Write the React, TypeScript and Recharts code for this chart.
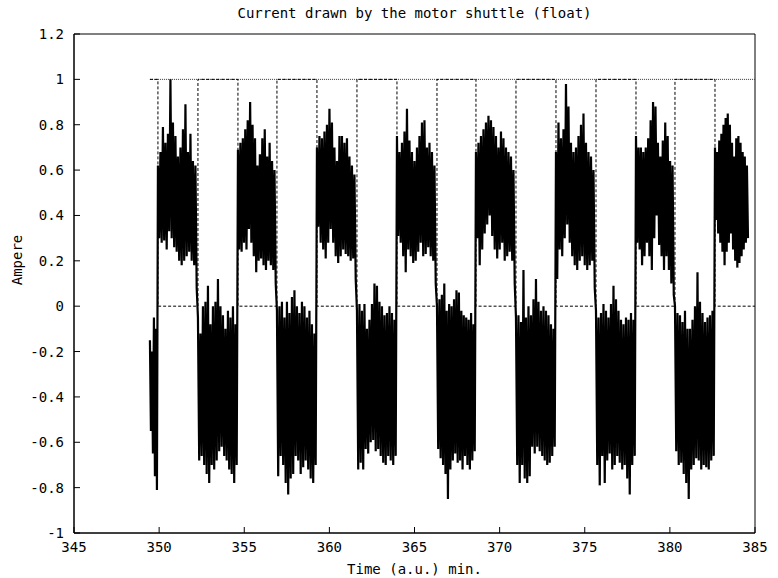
import { LineChart, Line, XAxis, YAxis, ReferenceArea } from 'recharts';

// segment boundaries (min) - every segment is one direction of the shuttle
const segEdges = [349.46, 349.93, 352.28, 354.63, 356.92, 359.27, 361.62, 363.97, 366.32, 368.61, 370.96, 373.31, 375.66, 378.01, 380.3, 382.65, 384.65];

const segHigh = [
  [-0.15, -0.2, -0.05, -0.1],
  [0.62, 0.68, 0.79, 0.72, 0.76, 1.0, 0.81, 0.75, 0.66, 0.7, 0.78, 0.89, 0.68, 0.76, 0.64, 0.62],
  [-0.05, -0.12, 0.0, 0.02, 0.09, -0.08, 0.0, 0.02, 0.12, 0.0, -0.04, -0.1, -0.02, -0.05, 0.0, -0.08],
  [0.69, 0.72, 0.74, 0.78, 0.82, 0.9, 0.8, 0.74, 0.62, 0.67, 0.74, 0.78, 0.66, 0.72, 0.64, 0.6],
  [-0.02, 0.0, 0.02, -0.05, 0.02, -0.03, 0.04, 0.07, 0.0, -0.03, 0.02, 0.0, -0.05, -0.02, -0.08, -0.12],
  [0.7, 0.75, 0.74, 0.77, 0.8, 0.87, 0.81, 0.7, 0.64, 0.75, 0.75, 0.72, 0.74, 0.66, 0.62, 0.58],
  [-0.02, 0.01, -0.02, 0.01, -0.1, -0.06, 0.01, 0.1, 0.09, 0.02, 0.0, -0.04, -0.03, 0.0, -0.03, -0.06],
  [0.75, 0.68, 0.72, 0.77, 0.87, 0.73, 0.68, 0.64, 0.7, 0.75, 0.81, 0.82, 0.7, 0.72, 0.68, 0.62],
  [0.0, 0.03, 0.05, 0.1, -0.02, 0.01, 0.0, 0.03, 0.07, 0.06, -0.02, -0.04, -0.05, -0.06, -0.03, -0.08],
  [0.68, 0.72, 0.75, 0.78, 0.81, 0.84, 0.82, 0.79, 0.75, 0.7, 0.77, 0.74, 0.7, 0.68, 0.66, 0.6],
  [-0.05, -0.04, -0.07, 0.16, -0.05, 0.0, -0.04, 0.03, 0.12, 0.02, -0.02, 0.0, -0.02, -0.04, -0.08, -0.1],
  [0.68, 0.81, 0.74, 0.78, 0.98, 0.88, 0.72, 0.68, 0.7, 0.75, 0.8, 0.85, 0.72, 0.68, 0.66, 0.6],
  [-0.02, -0.05, -0.03, 0.01, -0.02, -0.05, 0.01, 0.09, 0.03, -0.02, -0.06, -0.08, -0.05, -0.06, -0.03, -0.06],
  [0.75, 0.7, 0.7, 0.68, 0.7, 0.74, 0.82, 0.9, 0.88, 0.72, 0.66, 0.73, 0.81, 0.75, 0.64, 0.62],
  [0.0, -0.03, -0.04, -0.07, -0.02, -0.1, -0.1, -0.06, 0.0, 0.15, 0.02, -0.03, -0.07, -0.05, -0.04, -0.02],
  [0.7, 0.68, 0.73, 0.76, 0.8, 0.83, 0.85, 0.8, 0.72, 0.66, 0.74, 0.75, 0.72, 0.68, 0.66, 0.62],
];

const segLow = [
  [-0.55, -0.65, -0.75, -0.81],
  [0.3, 0.28, 0.29, 0.25, 0.33, 0.3, 0.26, 0.24, 0.2, 0.18, 0.2, 0.22, 0.24, 0.2, 0.18, 0.08],
  [-0.68, -0.66, -0.7, -0.74, -0.78, -0.7, -0.72, -0.68, -0.64, -0.62, -0.66, -0.68, -0.72, -0.74, -0.78, -0.7],
  [0.25, 0.24, 0.28, 0.25, 0.34, 0.28, 0.22, 0.15, 0.2, 0.21, 0.18, 0.16, 0.2, 0.18, 0.16, 0.1],
  [-0.75, -0.66, -0.7, -0.78, -0.83, -0.76, -0.74, -0.66, -0.68, -0.74, -0.71, -0.68, -0.72, -0.76, -0.78, -0.7],
  [0.35, 0.28, 0.25, 0.21, 0.28, 0.34, 0.28, 0.22, 0.19, 0.22, 0.25, 0.23, 0.22, 0.2, 0.21, 0.12],
  [-0.72, -0.69, -0.72, -0.63, -0.65, -0.6, -0.59, -0.64, -0.63, -0.66, -0.69, -0.7, -0.66, -0.68, -0.7, -0.66],
  [0.31, 0.28, 0.22, 0.15, 0.25, 0.22, 0.19, 0.2, 0.24, 0.28, 0.22, 0.23, 0.26, 0.22, 0.2, 0.1],
  [-0.63, -0.67, -0.7, -0.74, -0.85, -0.72, -0.68, -0.65, -0.69, -0.68, -0.72, -0.66, -0.7, -0.72, -0.68, -0.64],
  [0.3, 0.18, 0.25, 0.32, 0.36, 0.4, 0.31, 0.25, 0.21, 0.25, 0.28, 0.2, 0.22, 0.24, 0.2, 0.1],
  [-0.7, -0.78, -0.7, -0.76, -0.78, -0.75, -0.62, -0.65, -0.62, -0.64, -0.66, -0.68, -0.7, -0.69, -0.66, -0.62],
  [0.12, 0.25, 0.22, 0.3, 0.36, 0.28, 0.22, 0.18, 0.16, 0.2, 0.22, 0.18, 0.16, 0.18, 0.2, 0.08],
  [-0.7, -0.79, -0.66, -0.78, -0.68, -0.65, -0.72, -0.7, -0.66, -0.69, -0.72, -0.7, -0.76, -0.83, -0.7, -0.66],
  [0.28, 0.25, 0.18, 0.22, 0.28, 0.22, 0.16, 0.3, 0.4, 0.27, 0.22, 0.16, 0.22, 0.16, 0.1, 0.05],
  [-0.64, -0.7, -0.69, -0.74, -0.78, -0.85, -0.72, -0.7, -0.67, -0.68, -0.72, -0.7, -0.71, -0.72, -0.68, -0.66],
  [0.38, 0.32, 0.28, 0.24, 0.18, 0.24, 0.28, 0.32, 0.25, 0.2, 0.17, 0.19, 0.22, 0.25, 0.28, 0.3],
];

// direction signal (square wave) and the upper limit line
const stepTimes = [349.46, 349.93, 352.28, 354.63, 356.92, 359.27, 361.62, 363.97, 366.32, 368.61, 370.96, 373.31, 375.66, 378.01, 380.3, 382.65, 385];
const stepLevels = [1, 0, 1, 0, 1, 0, 1, 0, 1, 0, 1, 0, 1, 0, 1, 0, 0];
const limitTimes = [349.46, 385];
const limitLevels = [1, 1];

const xTicks = [345, 350, 355, 360, 365, 370, 375, 380, 385];
const yTicks = [-1, -0.8, -0.6, -0.4, -0.2, 0, 0.2, 0.4, 0.6, 0.8, 1, 1.2];

const FONT = '"DejaVu Sans Mono", monospace';

// zigzag between upper and lower envelope -> dense black band
const currentData: { t: number; a: number }[] = [];
segHigh.forEach((hi, k) => {
  const start = segEdges[k];
  const dt = (segEdges[k + 1] - start) / hi.length;
  hi.forEach((h, i) => {
    currentData.push({ t: start + i * dt, a: h });
    currentData.push({ t: start + (i + 0.5) * dt, a: segLow[k][i] });
  });
});

const stepData = stepTimes.map((t, i) => ({ t, s: stepLevels[i] }));
const limitData = limitTimes.map((t, i) => ({ t, l: limitLevels[i] }));

const tickStyle = { fill: '#000', fontSize: 14, fontFamily: FONT };

export default function App() {
  return (
    <div style={{ position: 'absolute', left: 0, top: 0, width: 778, height: 578, background: '#fff' }}>
      <div
        style={{
          position: 'absolute', left: 74, top: 5, width: 681, textAlign: 'center',
          fontFamily: FONT, fontSize: 14, color: '#000',
        }}
      >
        Current drawn by the motor shuttle (float)
      </div>
      <div
        style={{
          position: 'absolute', left: 17, top: 260, transform: 'translate(-50%, -50%) rotate(-90deg)',
          fontFamily: FONT, fontSize: 14, color: '#000', whiteSpace: 'nowrap',
        }}
      >
        Ampere
      </div>
      <LineChart width={778} height={578} data={currentData} margin={{ top: 34, right: 23, bottom: 0, left: 0 }}>
        <ReferenceArea x1={345} x2={385} y1={-1} y2={1.2} fill="none" stroke="#000" strokeWidth={1} ifOverflow="visible" />
        <XAxis
          dataKey="t"
          type="number"
          domain={[345, 385]}
          ticks={xTicks}
          allowDataOverflow
          height={45}
          tickSize={-6}
          tickMargin={15}
          stroke="#000"
          tick={tickStyle}
          label={{ value: 'Time (a.u.) min.', position: 'insideBottom', offset: 4, fill: '#000', fontSize: 14, fontFamily: FONT }}
        />
        <XAxis xAxisId="top" orientation="top" type="number" domain={[345, 385]} ticks={xTicks} height={0} tickSize={-6} tick={false} stroke="#000" />
        <YAxis
          type="number"
          domain={[-1, 1.2]}
          ticks={yTicks}
          allowDataOverflow
          width={74}
          tickSize={-6}
          tickMargin={16}
          stroke="#000"
          tick={tickStyle}
        />
        <YAxis yAxisId="right" orientation="right" type="number" domain={[-1, 1.2]} ticks={yTicks} width={0} tickSize={-6} tick={false} stroke="#000" />
        <Line data={limitData} dataKey="l" stroke="#333" strokeWidth={1} strokeDasharray="1 1" dot={false} isAnimationActive={false} />
        <Line data={stepData} dataKey="s" type="stepAfter" stroke="#000" strokeWidth={1} strokeDasharray="3 2" dot={false} isAnimationActive={false} />
        <Line dataKey="a" stroke="#000" strokeWidth={2.2} strokeLinejoin="miter" dot={false} isAnimationActive={false} />
      </LineChart>
    </div>
  );
}
